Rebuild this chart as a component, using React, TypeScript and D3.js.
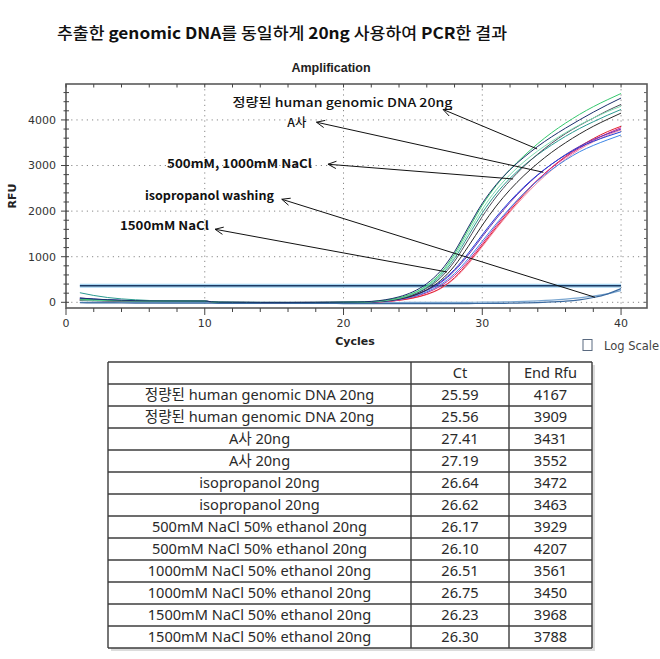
import React from "react";
import * as d3 from "d3";

const cycles = [1,2,3,4,5,6,7,8,9,10,11,12,13,14,15,16,17,18,19,20,21,22,23,24,25,26,27,28,29,30,31,32,33,34,35,36,37,38,39,40];

const navyRfu = [95,72,56,44,36,31,29,28,27,26,1,-1,-2,-3,-3,-3,-3,-2,-1,2,6,20,55,120,230,410,690,1110,1650,2170,2580,2910,3180,3420,3630,3820,4000,4170,4330,4480];
const greenRfu = [70,55,45,38,33,30,28,27,26,25,0,-2,-3,-4,-4,-4,-3,-3,-2,1,5,15,45,100,200,370,640,1060,1600,2130,2560,2910,3210,3480,3720,3930,4120,4290,4440,4580];
const seafoamRfu = [50,42,36,32,29,27,26,26,25,25,0,-1,-2,-3,-3,-3,-3,-2,-1,1,4,12,40,90,185,350,610,1010,1530,2040,2460,2800,3080,3320,3530,3720,3890,4040,4180,4300];
const grayRfu = [45,40,35,31,29,27,26,26,25,25,0,-1,-2,-3,-3,-3,-3,-2,-1,1,4,10,35,80,165,310,540,900,1380,1880,2310,2670,2980,3250,3490,3700,3880,4040,4200,4340];
const tealRfu = [210,150,105,75,55,40,32,28,25,22,2,0,-2,-3,-3,-4,-4,-4,-3,-1,3,10,35,85,175,330,580,960,1460,1960,2380,2720,3000,3240,3450,3640,3810,3960,4100,4230];
const blackRfu = [40,35,32,30,28,27,26,26,25,25,0,-1,-2,-3,-3,-3,-3,-2,-1,1,3,8,28,70,145,275,480,800,1230,1690,2110,2470,2780,3050,3290,3500,3690,3860,4010,4150];
const blueRfu = [85,66,52,41,34,30,28,27,26,25,-1,-2,-3,-4,-4,-4,-3,-3,-2,0,3,8,30,75,150,270,450,720,1080,1480,1870,2220,2530,2800,3030,3230,3400,3530,3640,3740];
const skyRfu = [45,38,33,30,28,27,26,25,25,24,-1,-2,-3,-4,-4,-4,-4,-3,-2,0,2,6,22,60,125,230,390,630,960,1340,1720,2070,2390,2670,2910,3120,3300,3440,3560,3670];
const purpleRfu = [92,70,55,42,35,30,28,27,26,25,0,-2,-3,-4,-4,-4,-3,-3,-2,0,3,8,30,72,145,260,430,690,1040,1440,1830,2190,2510,2790,3030,3240,3420,3570,3690,3800];
const magentaRfu = [65,50,40,34,30,28,27,26,25,25,-2,-3,-4,-5,-5,-5,-4,-4,-3,-1,2,5,20,55,115,210,360,590,910,1290,1680,2050,2390,2690,2950,3180,3380,3550,3700,3830];
const redRfu = [60,45,35,30,28,27,26,25,25,24,-2,-3,-4,-5,-5,-5,-4,-4,-3,-1,1,4,16,45,95,175,310,540,870,1250,1640,2010,2360,2680,2960,3200,3410,3590,3740,3860];
const pinkRfu = [55,42,34,30,28,27,26,25,25,24,-2,-3,-4,-5,-5,-5,-4,-4,-3,-1,1,4,15,42,90,170,300,520,840,1220,1610,1980,2320,2630,2900,3140,3350,3520,3660,3780];
const neg1Rfu = [-10,-12,-14,-15,-16,-17,-18,-18,-19,-20,-22,-23,-24,-25,-25,-25,-26,-26,-26,-27,-27,-27,-27,-28,-28,-28,-28,-28,-27,-26,-24,-20,-14,-5,8,25,55,105,180,300];
const neg2Rfu = [-2,-3,-3,-4,-4,-4,-5,-5,-5,-5,-5,-5,-5,-5,-5,-5,-5,-5,-5,-5,-4,-4,-4,-4,-3,-3,-2,-1,0,2,6,12,20,32,48,70,98,135,185,255];

const thresholdRfu = 364;

const xTickLabels = [0, 10, 20, 30, 40];
const yTickLabels = [0, 1000, 2000, 3000, 4000];

const annLabels = ["정량된 human genomic DNA 20ng", "A사", "500mM, 1000mM NaCl", "isopropanol washing", "1500mM NaCl"];
const annLabelCycle = [12.0, 15.95, 7.28, 5.69, 3.89];
const annLabelRfu = [4388, 3934, 3034, 2332, 1674];
const annHeadCycle = [27.17, 18.05, 18.88, 15.55, 10.74];
const annHeadRfu = [4230, 3950, 3028, 2260, 1602];
const annTailCycle = [33.95, 34.4, 32.22, 38.13, 27.46];
const annTailRfu = [3364, 2852, 2705, 110, 665];

const tableSamples = [
  "정량된 human genomic DNA 20ng",
  "정량된 human genomic DNA 20ng",
  "A사 20ng",
  "A사 20ng",
  "isopropanol 20ng",
  "isopropanol 20ng",
  "500mM NaCl 50% ethanol 20ng",
  "500mM NaCl 50% ethanol 20ng",
  "1000mM NaCl 50% ethanol 20ng",
  "1000mM NaCl 50% ethanol 20ng",
  "1500mM NaCl 50% ethanol 20ng",
  "1500mM NaCl 50% ethanol 20ng",
];
const tableCt = ["25.59", "25.56", "27.41", "27.19", "26.64", "26.62", "26.17", "26.10", "26.51", "26.75", "26.23", "26.30"];
const tableEndRfu = ["4167", "3909", "3431", "3552", "3472", "3463", "3929", "4207", "3561", "3450", "3968", "3788"];
const tableHeaders = ["", "Ct", "End Rfu"];

const curveSeries = [
  { values: pinkRfu, color: "#f48aa6" },
  { values: redRfu, color: "#e3202c" },
  { values: magentaRfu, color: "#d0208a" },
  { values: skyRfu, color: "#3d86e6" },
  { values: purpleRfu, color: "#6a2db0" },
  { values: blueRfu, color: "#2040d8" },
  { values: blackRfu, color: "#2a2a2a" },
  { values: tealRfu, color: "#2a9a90" },
  { values: grayRfu, color: "#4a4a5a" },
  { values: seafoamRfu, color: "#7fdcb2" },
  { values: greenRfu, color: "#35c86e" },
  { values: navyRfu, color: "#1b2f6b" },
];

export default function App() {
  const x = d3.scaleLinear().domain([0, 41.87]).range([66, 647]);
  const y = d3.scaleLinear().domain([-125, 4788]).range([308, 84]);
  const line = d3
    .line<number>()
    .x((_, i) => x(cycles[i]))
    .y((d) => y(d))
    .curve(d3.curveMonotoneX);

  const xMinor = d3.range(0, 42, 2);
  const yMinor = d3.range(0, 4800, 200);

  const rowH = 22;
  const tTop = 362;
  const tLeft = 108;
  const colX = [108, 411, 509, 592];
  const nRows = tableSamples.length + 1;
  const tBottom = tTop + nRows * rowH;

  const arrowHead = (hx: number, hy: number, tx: number, ty: number) => {
    const ang = Math.atan2(ty - hy, tx - hx);
    const L = 9;
    const a1 = ang + 0.42;
    const a2 = ang - 0.42;
    return `M${hx + L * Math.cos(a1)},${hy + L * Math.sin(a1)}L${hx},${hy}L${hx + L * Math.cos(a2)},${hy + L * Math.sin(a2)}`;
  };

  const annWidths = [220, 19, 145, 129, 89];

  return (
    <svg
      width={660}
      height={659}
      style={{ position: "absolute", left: 0, top: 0, background: "#fff" }}
      fontFamily="'DejaVu Sans', sans-serif"
    >
      <rect x={0} y={0} width={660} height={659} fill="#fff" />
      {/* Title */}
      <text
        x={57}
        y={39}
        fontSize={16}
        fontFamily="'Noto Sans CJK KR', sans-serif"
        fill="#111"
        textLength={450}
        lengthAdjust="spacingAndGlyphs"
      >
        <tspan fontWeight={500}>추출한 </tspan>
        <tspan fontWeight={700}>genomic DNA</tspan>
        <tspan fontWeight={500}>를 동일하게 </tspan>
        <tspan fontWeight={700}>20ng</tspan>
        <tspan fontWeight={500}> 사용하여 </tspan>
        <tspan fontWeight={700}>PCR</tspan>
        <tspan fontWeight={500}>한 결과</tspan>
      </text>
      <text x={331} y={72} textAnchor="middle" fontSize={12.5} fontWeight="bold" fill="#222" fontFamily="'Liberation Sans', Arial, sans-serif">
        Amplification
      </text>

      {/* grid */}
      {yTickLabels.map((v) => (
        <line key={"gy" + v} x1={x(0)} x2={x(41.87)} y1={y(v)} y2={y(v)} stroke="#888" strokeWidth={1} strokeDasharray="1.2,4" />
      ))}
      {xTickLabels.filter((v) => v > 0).map((v) => (
        <line key={"gx" + v} x1={x(v)} x2={x(v)} y1={84} y2={308} stroke="#888" strokeWidth={1} strokeDasharray="1.2,4" />
      ))}

      {/* threshold */}
      <line x1={x(1)} x2={x(40)} y1={y(thresholdRfu)} y2={y(thresholdRfu)} stroke="#a9d6f2" strokeWidth={4} />
      <line x1={x(1)} x2={x(40)} y1={y(thresholdRfu)} y2={y(thresholdRfu)} stroke="#1c3a63" strokeWidth={1.6} />

      {/* negative controls */}
      <path d={line(neg2Rfu) || ""} fill="none" stroke="#7aa6d0" strokeWidth={1.2} />
      <path d={line(neg1Rfu) || ""} fill="none" stroke="#3b6aa0" strokeWidth={1.2} />

      {/* curves */}
      {curveSeries.map((s, i) => (
        <path key={"c" + i} d={line(s.values) || ""} fill="none" stroke={s.color} strokeWidth={1} />
      ))}

      {/* frame */}
      <rect x={66} y={84} width={581} height={224} fill="none" stroke="#5a5a5a" strokeWidth={1.6} />

      {/* y ticks */}
      {yMinor.map((v) => (
        <g key={"yt" + v}>
          <line x1={v % 1000 === 0 ? 61 : 63.5} x2={69} y1={y(v)} y2={y(v)} stroke="#444" strokeWidth={1} />
          <line x1={644} x2={647} y1={y(v)} y2={y(v)} stroke="#666" strokeWidth={1} />
        </g>
      ))}
      {yTickLabels.map((v) => (
        <text key={"yl" + v} x={56} y={y(v)} dy="0.35em" textAnchor="end" fontSize={11} fill="#333">
          {v}
        </text>
      ))}

      {/* x ticks */}
      {xMinor.map((v) => (
        <g key={"xt" + v}>
          <line x1={x(v)} x2={x(v)} y1={308} y2={v % 10 === 0 ? 315 : 312} stroke="#444" strokeWidth={1} />
          <line x1={x(v)} x2={x(v)} y1={84} y2={87.5} stroke="#444" strokeWidth={1} />
        </g>
      ))}
      {xTickLabels.map((v) => (
        <text key={"xl" + v} x={x(v)} y={327} textAnchor="middle" fontSize={11} fill="#333">
          {v}
        </text>
      ))}

      <text x={355} y={345} textAnchor="middle" fontSize={11} fontWeight="bold" fill="#222">
        Cycles
      </text>
      <text transform="translate(16,196) rotate(-90)" textAnchor="middle" fontSize={11} fontWeight="bold" fill="#222">
        RFU
      </text>

      {/* Log scale */}
      <rect x={583} y={339.5} width={9} height={11} fill="#fff" stroke="#5a6a80" strokeWidth={1} />
      <text x={604} y={349.5} fontSize={11.5} fill="#444">
        Log Scale
      </text>

      {/* annotations */}
      {annLabels.map((t, i) => {
        const hx = x(annHeadCycle[i]);
        const hy = y(annHeadRfu[i]);
        const tx = x(annTailCycle[i]);
        const ty = y(annTailRfu[i]);
        return (
          <g key={"ann" + i}>
            <line x1={tx} y1={ty} x2={hx} y2={hy} stroke="#111" strokeWidth={1} />
            <path d={arrowHead(hx, hy, tx, ty)} fill="none" stroke="#111" strokeWidth={1} />
            <text
              x={x(annLabelCycle[i])}
              y={y(annLabelRfu[i])}
              dy="0.36em"
              fontSize={12}
              fontWeight={i === 0 || i === 1 ? 500 : 700}
              fontFamily="'Noto Sans CJK KR', sans-serif"
              fill="#111"
              textLength={annWidths[i]}
              lengthAdjust="spacingAndGlyphs"
            >
              {t}
            </text>
          </g>
        );
      })}

      {/* table */}
      <rect x={tLeft + 3} y={tTop + 3} width={colX[3] - tLeft} height={tBottom - tTop} fill="#dcdcdc" />
      <rect x={tLeft} y={tTop} width={colX[3] - tLeft} height={tBottom - tTop} fill="#fff" />
      {d3.range(nRows + 1).map((r) => (
        <line key={"tr" + r} x1={tLeft} x2={colX[3]} y1={tTop + r * rowH} y2={tTop + r * rowH} stroke="#3c3c3c" strokeWidth={1.4} />
      ))}
      {colX.map((cx, i) => (
        <line key={"tc" + i} x1={cx} x2={cx} y1={tTop} y2={tBottom} stroke="#3c3c3c" strokeWidth={1.4} />
      ))}
      <g fontFamily="'Noto Sans', 'Noto Sans CJK KR', sans-serif" fontSize={14.6} fill="#2a2a2a" textAnchor="middle">
        {tableHeaders.map((h, i) => (
          <text key={"th" + i} x={(colX[i] + colX[i + 1]) / 2} y={tTop + rowH / 2} dy="0.35em">
            {h}
          </text>
        ))}
        {tableSamples.map((s, r) => {
          const cy = tTop + (r + 1) * rowH + rowH / 2;
          return (
            <g key={"row" + r}>
              <text x={(colX[0] + colX[1]) / 2} y={cy} dy="0.35em">{s}</text>
              <text x={(colX[1] + colX[2]) / 2} y={cy} dy="0.35em">{tableCt[r]}</text>
              <text x={(colX[2] + colX[3]) / 2} y={cy} dy="0.35em">{tableEndRfu[r]}</text>
            </g>
          );
        })}
      </g>
    </svg>
  );
}
